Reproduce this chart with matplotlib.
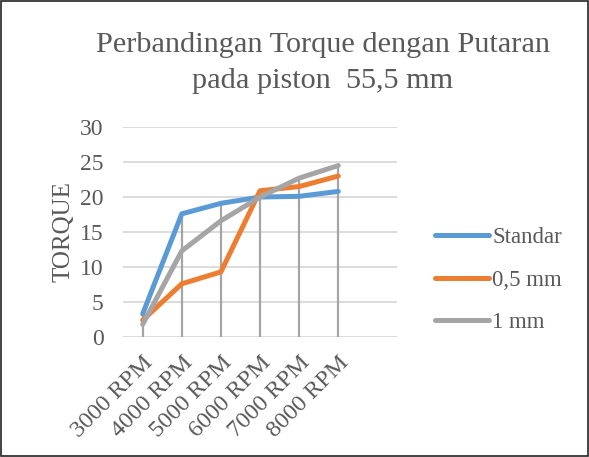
import matplotlib
matplotlib.use("Agg")
import matplotlib.pyplot as plt
from matplotlib.lines import Line2D
from matplotlib.patches import Rectangle

categories = ["3000 RPM", "4000 RPM", "5000 RPM", "6000 RPM", "7000 RPM", "8000 RPM"]
standar = [3.3, 17.6, 19.1, 20.0, 20.1, 20.8]
mm05 = [2.4, 7.6, 9.3, 20.9, 21.5, 23.0]
mm1 = [1.8, 12.3, 16.6, 20.0, 22.7, 24.5]
series_names = ["Standar", "0,5 mm", "1 mm"]
colors = ["#5b9bd5", "#ed7d31", "#a5a5a5"]
yticks = [0, 5, 10, 15, 20, 25, 30]

plt.rcParams['font.family'] = ['Liberation Serif', 'DejaVu Serif']
txt = "#595959"

fig = plt.figure(figsize=(5.89, 4.57), dpi=100)
ax = fig.add_axes([0.209, 0.2626, 0.465, 0.4594])

x = list(range(len(categories)))
data = [standar, mm05, mm1]
tops = [max(v) for v in zip(*data)]
ax.vlines(x, 0, tops, color="#a5a5a5", lw=1.6, zorder=2)
for vals, c, n in zip(data, colors, series_names):
    ax.plot(x, vals, color=c, lw=3.6, solid_capstyle="round", solid_joinstyle="round", zorder=3, label=n)

ax.set_xlim(-0.5, 6.5)
ax.set_ylim(0, 30)
ax.set_yticks(yticks)
ax.set_xticks(x)
ax.set_xticklabels(categories, rotation=45, ha="right", rotation_mode="anchor", fontsize=17.5, color=txt)
ax.tick_params(axis="y", labelsize=17, colors=txt, length=0, pad=14)
ax.tick_params(axis="x", length=0, pad=11)
ax.grid(axis="y", color="#d9d9d9", lw=1.3, zorder=0)
ax.set_axisbelow(True)
for s in ax.spines.values():
    s.set_visible(False)
ax.set_ylabel("TORQUE", fontsize=18, color=txt, labelpad=4)

fig.text(0.548, 1 - 32 / 457, "Perbandingan Torque dengan Putaran\npada piston  55,5 mm",
         ha="center", va="top", fontsize=21.8, color=txt, linespacing=1.5)

handles = [Line2D([0], [0], color=c, lw=3.6, solid_capstyle="round") for c in colors]
fig.legend(handles, series_names, loc="center left", bbox_to_anchor=(435 / 589, 0.387),
           frameon=False, fontsize=16.5, labelcolor=txt, handlelength=2.35,
           handletextpad=0.15, labelspacing=0.95, borderpad=0, borderaxespad=0)

fig.patches.append(Rectangle((0.002, 0.002), 0.996, 0.996, transform=fig.transFigure,
                             fill=False, edgecolor="#222222", lw=1.2))

fig.savefig("out.png", dpi=100)
